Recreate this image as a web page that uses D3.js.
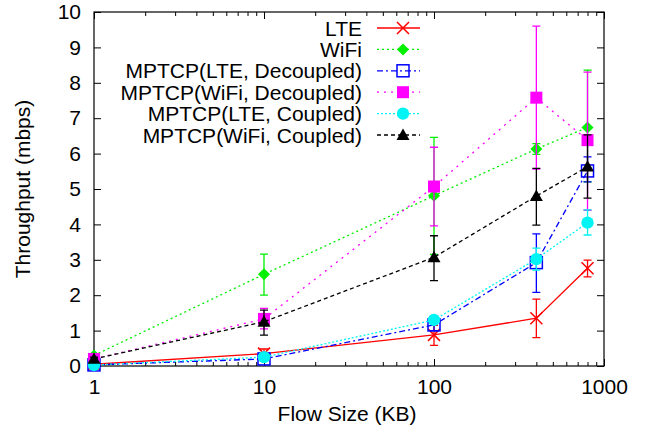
<!DOCTYPE html>
<html>
<head>
<meta charset="utf-8">
<script src="https://cdn.jsdelivr.net/npm/d3@7"></script>
<style>
  html, body { margin: 0; padding: 0; background: #fff; }
  svg { display: block; font-family: "Liberation Sans", Arial, Helvetica, sans-serif; }
</style>
</head>
<body>
<svg id="chart" width="647" height="437"></svg>
<script>
// ---- data ----
const flowSizes = [1, 10, 100, 400, 800];
const seriesNames = ["LTE", "WiFi", "MPTCP(LTE, Decoupled)", "MPTCP(WiFi, Decoupled)", "MPTCP(LTE, Coupled)", "MPTCP(WiFi, Coupled)"];
const lteValues   = [0.05, 0.35, 0.88, 1.35, 2.76];
const lteLow      = [0.03, 0.28, 0.58, 0.80, 2.52];
const lteHigh     = [0.07, 0.48, 1.15, 1.89, 2.99];
const wifiValues  = [0.30, 2.59, 4.81, 6.13, 6.74];
const wifiLow     = [0.25, 2.00, 3.15, 5.98, 5.20];
const wifiHigh    = [0.35, 3.16, 6.46, 6.28, 8.36];
const lteDecValues  = [0.03, 0.20, 1.16, 2.92, 5.51];
const lteDecLow     = [0.00, 0.15, 1.00, 2.08, 5.20];
const lteDecHigh    = [0.06, 0.25, 1.30, 3.73, 5.91];
const wifiDecValues = [0.20, 1.33, 5.07, 7.58, 6.38];
const wifiDecLow    = [0.15, 1.05, 3.96, 5.56, 4.40];
const wifiDecHigh   = [0.25, 1.63, 6.18, 9.60, 8.30];
const lteCoupValues = [0.03, 0.25, 1.30, 3.02, 4.05];
const lteCoupLow    = [0.00, 0.20, 1.20, 2.71, 3.70];
const lteCoupHigh   = [0.06, 0.30, 1.40, 3.33, 4.41];
const wifiCoupValues= [0.20, 1.25, 3.07, 4.80, 5.63];
const wifiCoupLow   = [0.15, 0.87, 2.41, 3.98, 4.74];
const wifiCoupHigh  = [0.25, 1.58, 3.68, 5.58, 6.53];
const xTickLabels = [1, 10, 100, 1000];
const yTickLabels = [0, 1, 2, 3, 4, 5, 6, 7, 8, 9, 10];

// ---- styles ----
const styles = [
  { color: "#ff0000", dash: null,      marker: "x" },
  { color: "#00f000", dash: "2,3",     marker: "diamond" },
  { color: "#0000ff", dash: "6,3,2,3", marker: "square-open" },
  { color: "#ff00ff", dash: "2,5",     marker: "square" },
  { color: "#00f4f4", dash: "2,2",     marker: "circle" },
  { color: "#000000", dash: "4,3",     marker: "triangle" }
];
const allValues = [lteValues, wifiValues, lteDecValues, wifiDecValues, lteCoupValues, wifiCoupValues];
const allLow = [lteLow, wifiLow, lteDecLow, wifiDecLow, lteCoupLow, wifiCoupLow];
const allHigh = [lteHigh, wifiHigh, lteDecHigh, wifiDecHigh, lteCoupHigh, wifiCoupHigh];

const svg = d3.select("#chart");
const L = 94, R = 604, T = 12, B = 366;
const x = d3.scaleLog().domain([1, 1000]).range([L, R]);
const y = d3.scaleLinear().domain([0, 10]).range([B, T]);
const FS = 21;

// axes
const minor = [];
for (let d = 1; d < 1000; d *= 10) for (let k = 2; k <= 9; k++) minor.push(d * k);

function styleAxis(g) {
  g.select(".domain").remove();
  g.selectAll("line").attr("stroke", "#000").attr("stroke-width", 1);
  g.selectAll("text").attr("font-size", FS).attr("fill", "#000").attr("font-family", "Liberation Sans, Arial, sans-serif");
}
svg.append("g").attr("transform", `translate(0,${B})`)
  .call(d3.axisBottom(x).tickValues(xTickLabels).tickFormat(d3.format("d")).tickSize(-7).tickPadding(13))
  .call(styleAxis);
svg.append("g").attr("transform", `translate(0,${B})`)
  .call(d3.axisBottom(x).tickValues(minor).tickFormat("").tickSize(-4))
  .call(styleAxis);
svg.append("g").attr("transform", `translate(0,${T})`)
  .call(d3.axisTop(x).tickValues(xTickLabels).tickFormat("").tickSize(-7))
  .call(styleAxis);
svg.append("g").attr("transform", `translate(0,${T})`)
  .call(d3.axisTop(x).tickValues(minor).tickFormat("").tickSize(-4))
  .call(styleAxis);
svg.append("g").attr("transform", `translate(${L},0)`)
  .call(d3.axisLeft(y).tickValues(yTickLabels).tickFormat(d3.format("d")).tickSize(-7).tickPadding(13))
  .call(styleAxis);
svg.append("g").attr("transform", `translate(${R},0)`)
  .call(d3.axisRight(y).tickValues(yTickLabels).tickFormat("").tickSize(-7))
  .call(styleAxis);

svg.append("rect").attr("x", L).attr("y", T).attr("width", R - L).attr("height", B - T)
  .attr("fill", "none").attr("stroke", "#000").attr("stroke-width", 1.2);

// labels
svg.append("text").attr("x", 347).attr("y", 421).attr("text-anchor", "middle")
  .attr("font-size", FS).text("Flow Size (KB)");
svg.append("text").attr("transform", `translate(30,${(T + B) / 2}) rotate(-90)`).attr("text-anchor", "middle")
  .attr("font-size", FS).text("Throughput (mbps)");

function drawMarker(g, type, cx, cy, color) {
  if (type === "x") {
    const s = 6;
    g.append("path").attr("d", `M${cx - s},${cy - s}L${cx + s},${cy + s}M${cx - s},${cy + s}L${cx + s},${cy - s}`)
      .attr("stroke", color).attr("stroke-width", 1.5).attr("fill", "none");
  } else if (type === "diamond") {
    const s = 6;
    g.append("path").attr("d", `M${cx},${cy - s}L${cx + s},${cy}L${cx},${cy + s}L${cx - s},${cy}Z`).attr("fill", color);
  } else if (type === "square-open") {
    const s = 6;
    g.append("rect").attr("x", cx - s).attr("y", cy - s).attr("width", 2 * s).attr("height", 2 * s)
      .attr("fill", "none").attr("stroke", color).attr("stroke-width", 1.5);
  } else if (type === "square") {
    const s = 6;
    g.append("rect").attr("x", cx - s).attr("y", cy - s).attr("width", 2 * s).attr("height", 2 * s).attr("fill", color);
  } else if (type === "circle") {
    g.append("circle").attr("cx", cx).attr("cy", cy).attr("r", 6.2).attr("fill", color);
  } else if (type === "triangle") {
    const s = 6.5;
    g.append("path").attr("d", `M${cx},${cy - s}L${cx + s},${cy + s * 0.75}L${cx - s},${cy + s * 0.75}Z`).attr("fill", color);
  }
}

const line = d3.line().x(d => x(d[0])).y(d => y(d[1]));

allValues.forEach((vals, i) => {
  const st = styles[i];
  const g = svg.append("g");
  const pts = flowSizes.map((f, j) => [f, vals[j]]);
  g.append("path").datum(pts).attr("d", line).attr("fill", "none")
    .attr("stroke", st.color).attr("stroke-width", 1.3)
    .attr("stroke-dasharray", st.dash);
  flowSizes.forEach((f, j) => {
    const cx = x(f), y1 = y(allLow[i][j]), y2 = y(allHigh[i][j]);
    g.append("path").attr("d", `M${cx},${y1}V${y2}M${cx - 4},${y1}H${cx + 4}M${cx - 4},${y2}H${cx + 4}`)
      .attr("stroke", st.color).attr("stroke-width", 1.3).attr("fill", "none");
  });
  flowSizes.forEach((f, j) => drawMarker(g, st.marker, x(f), y(vals[j]), st.color));
});

// legend
const legX = 362, legY0 = 28, legDy = 21.4;
seriesNames.forEach((name, i) => {
  const st = styles[i];
  const cy = legY0 + i * legDy;
  svg.append("text").attr("x", legX).attr("y", cy + 7.5).attr("text-anchor", "end")
    .attr("font-size", FS).text(name);
  svg.append("line").attr("x1", 377).attr("x2", 420).attr("y1", cy).attr("y2", cy)
    .attr("stroke", st.color).attr("stroke-width", 1.3).attr("stroke-dasharray", st.dash);
  drawMarker(svg, st.marker, 403, cy, st.color);
});
</script>
</body>
</html>
